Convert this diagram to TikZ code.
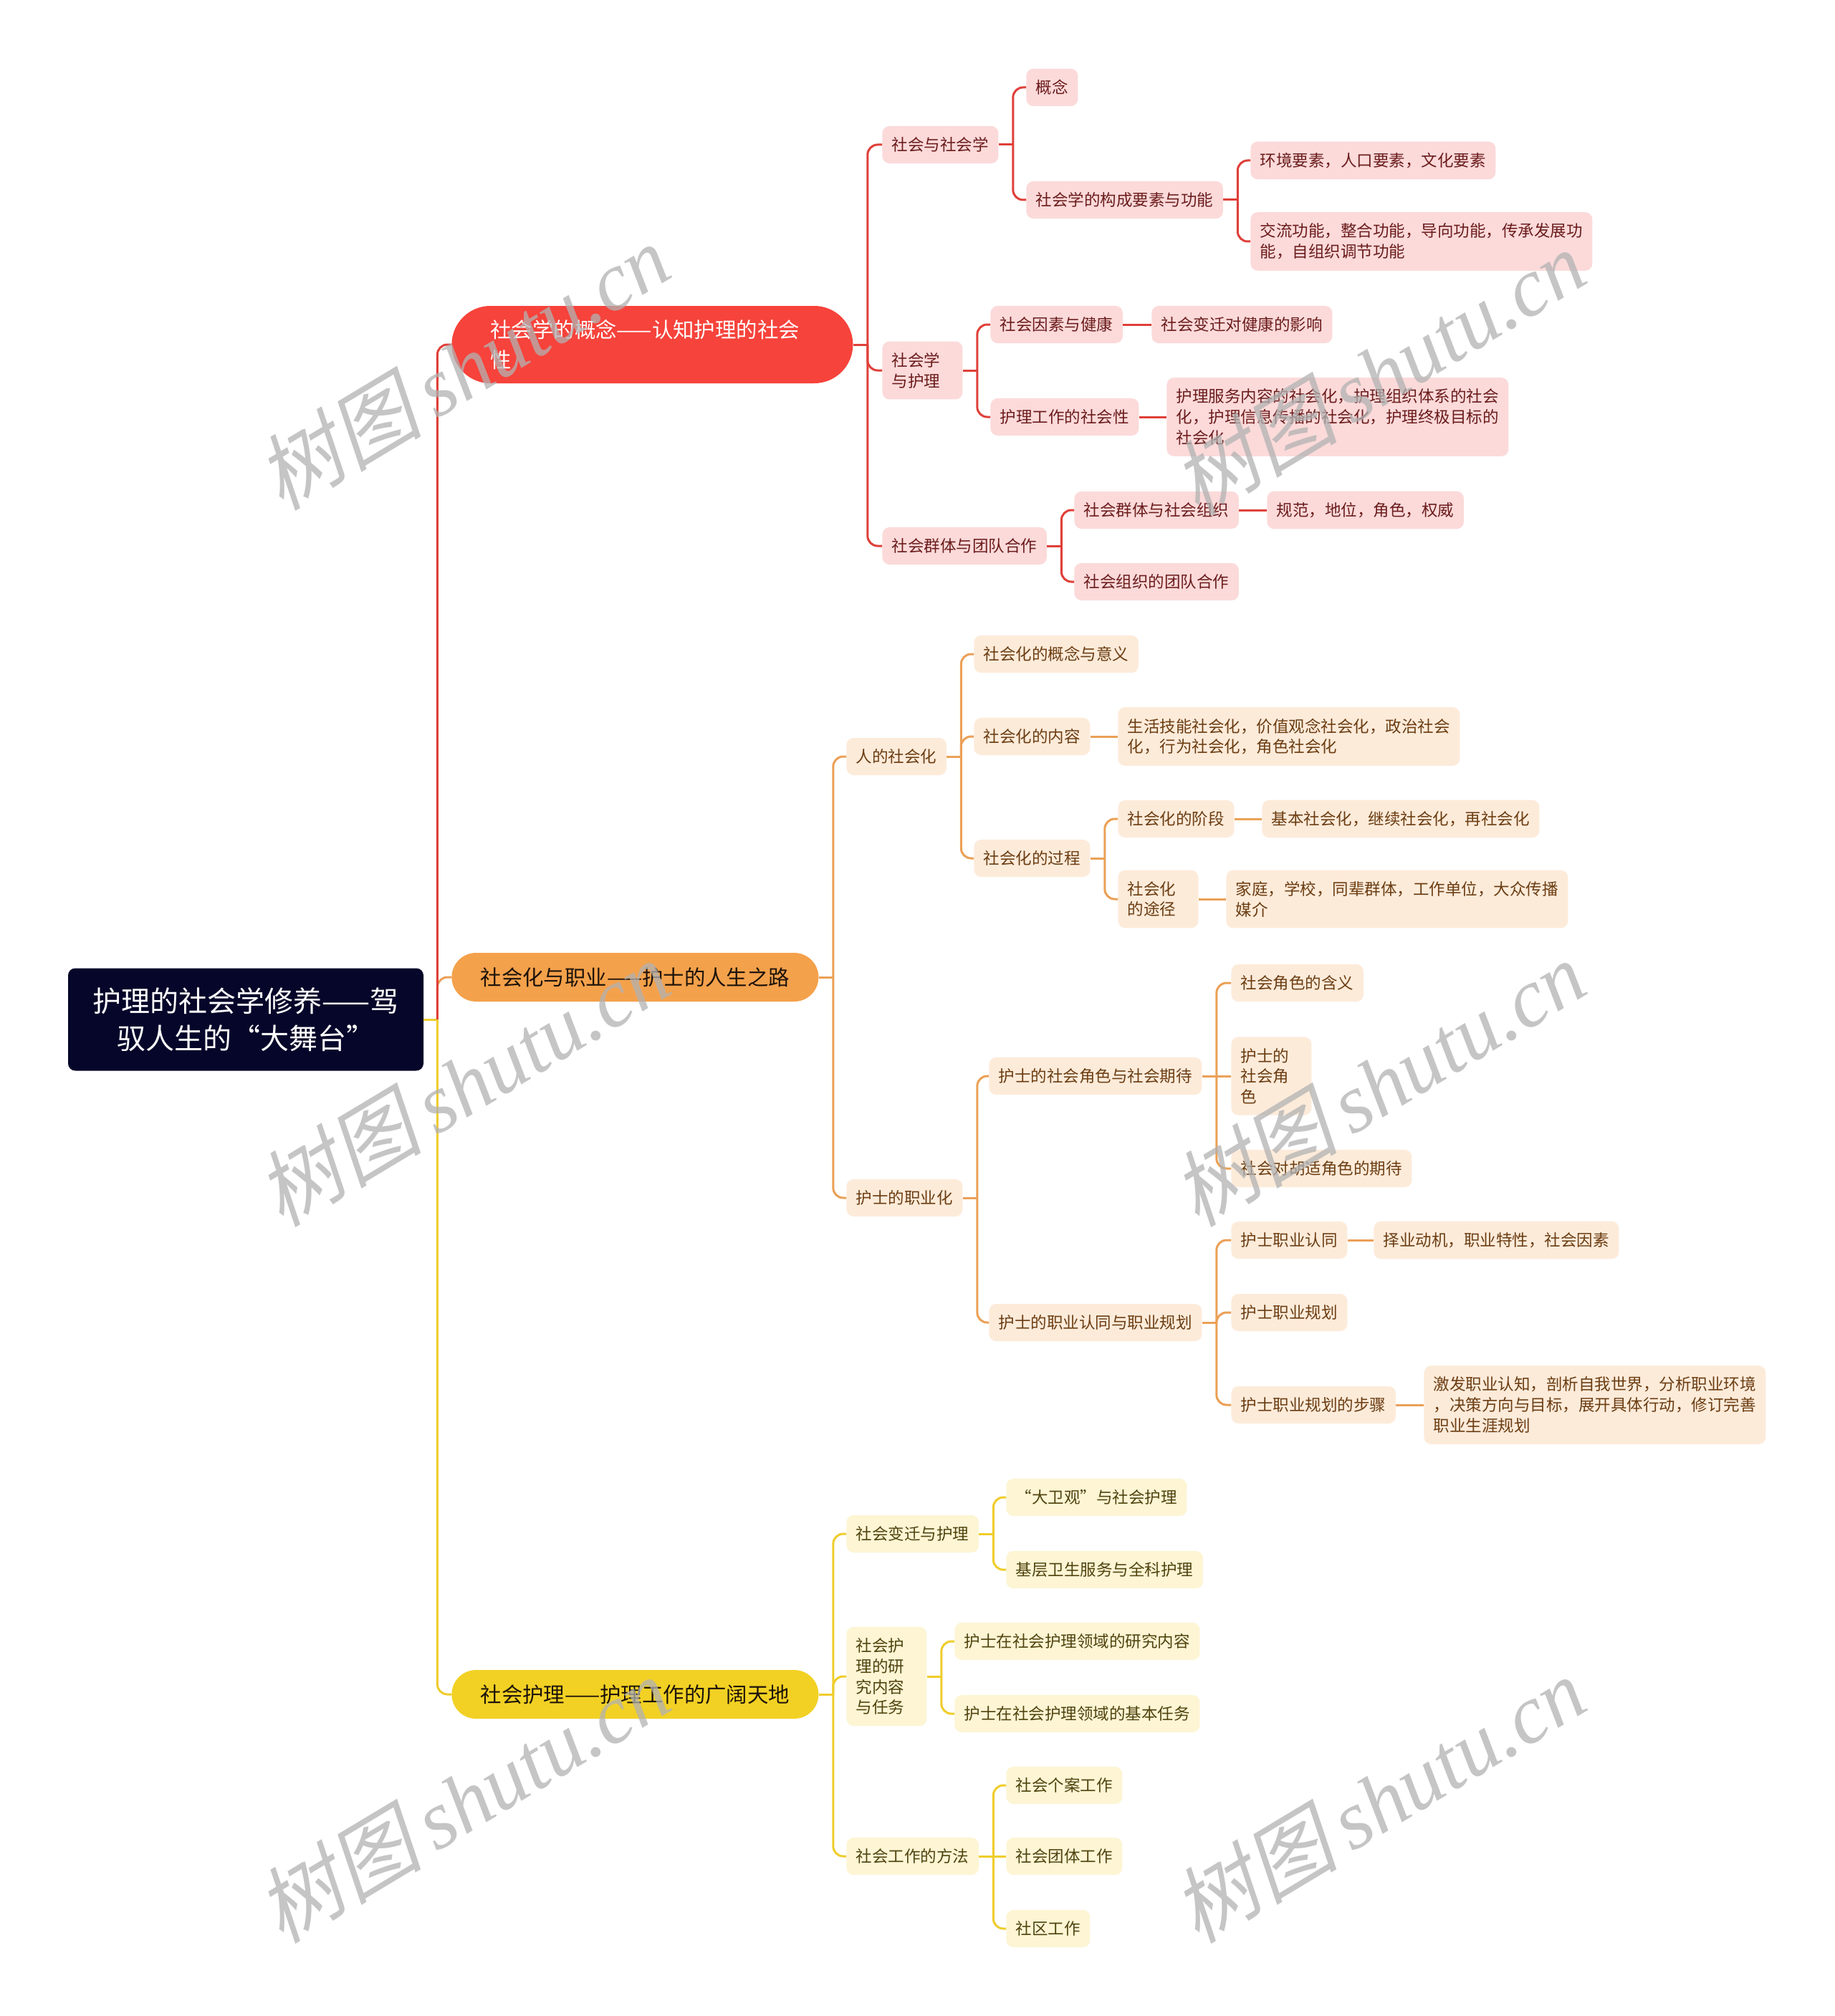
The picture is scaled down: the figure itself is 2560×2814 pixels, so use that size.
\documentclass[tikz,border=0pt]{standalone}
\usepackage{fontspec}
\setmainfont{Noto Sans CJK SC}
\newfontfamily\wmcjk[FakeSlant=0.22]{Noto Sans CJK SC}
\newfontfamily\wmlat{Liberation Serif}
\definecolor{pred}{HTML}{F6433B}
\definecolor{rline}{HTML}{DF4039}
\definecolor{rfill}{HTML}{FCDADA}
\definecolor{rtext}{HTML}{6B1C1C}
\definecolor{porange}{HTML}{F4A14B}
\definecolor{oline}{HTML}{EBA056}
\definecolor{ofill}{HTML}{FDEBDA}
\definecolor{otext}{HTML}{6B3D12}
\definecolor{pyellow}{HTML}{F2D124}
\definecolor{yline}{HTML}{EFCD2C}
\definecolor{yfill}{HTML}{FDF5D4}
\definecolor{ytext}{HTML}{4F430E}
\definecolor{rootfill}{HTML}{06062A}
\newcommand\mybranch[3]{%
  \draw[#1] (#2.east) -- ++(20,0) coordinate (#2j);
  \foreach \c in {#3} {\draw[#1] (#2j) |- (\c.west);}%
}
\begin{document}
\begin{tikzpicture}[x=0.5pt,y=-0.5pt,
  box/.style={rounded corners=5pt, inner xsep=6.75pt, inner ysep=7.8pt,
    minimum height=26pt, align=left, anchor=west,
    font=\fontsize{11.25}{14.4}\selectfont},
  rbox/.style={box, fill=rfill, text=rtext},
  obox/.style={box, fill=ofill, text=otext},
  ybox/.style={box, fill=yfill, text=ytext},
  narrow/.style={text width=42.5pt},
  pill/.style={anchor=west, font=\fontsize{14.7}{20.6}\selectfont, inner sep=0pt},
  rl/.style={draw=rline, line width=1.5pt, rounded corners=7pt},
  ol/.style={draw=oline, line width=1.5pt, rounded corners=7pt},
  yl/.style={draw=yline, line width=1.5pt, rounded corners=7pt},
  wm/.style={text=black!30, opacity=0.75, rotate=31, inner sep=0pt}
]
\fill[white] (0,0) rectangle (2560,2814);
\useasboundingbox (0,0) rectangle (2560,2814);

% root
\node[fill=rootfill, text=white, rounded corners=5pt, minimum width=248pt,
  minimum height=71.5pt, align=center, inner sep=0pt,
  font=\fontsize{20}{26}\selectfont] (root) at (343,1423)
  {护理的社会学修养——驾\\驭人生的“大舞台”};

% level 1
\node[pill, fill=pred, text=white, minimum width=280pt, minimum height=54pt,
  rounded corners=27pt, text width=226pt, inner xsep=27pt, align=left] (A) at (630,481)
  {社会学的概念——认知护理的社会\\性};
\node[pill, fill=porange, text=black!85!brown, minimum width=256pt, minimum height=34pt,
  rounded corners=17pt] (B) at (630,1364) {社会化与职业——护士的人生之路};
\node[pill, fill=pyellow, text=black!85!brown, minimum width=256pt, minimum height=34pt,
  rounded corners=17pt] (C) at (630,2365) {社会护理——护理工作的广阔天地};

% red branch
\node[rbox] (A1) at (1231,202) {社会与社会学};
\node[rbox] (A11) at (1432,122) {概念};
\node[rbox] (A12) at (1432,279) {社会学的构成要素与功能};
\node[rbox] (A121) at (1745,224) {环境要素，人口要素，文化要素};
\node[rbox] (A122) at (1745,337) {交流功能，整合功能，导向功能，传承发展功\\能，自组织调节功能};
\node[rbox,narrow] (A2) at (1231,517) {社会学\\与护理};
\node[rbox] (A21) at (1382,453) {社会因素与健康};
\node[rbox] (A211) at (1607,453) {社会变迁对健康的影响};
\node[rbox] (A22) at (1382,582) {护理工作的社会性};
\node[rbox] (A221) at (1628,582) {护理服务内容的社会化，护理组织体系的社会\\化，护理信息传播的社会化，护理终极目标的\\社会化};
\node[rbox] (A3) at (1231,762) {社会群体与团队合作};
\node[rbox] (A31) at (1499,712) {社会群体与社会组织};
\node[rbox] (A311) at (1768,712) {规范，地位，角色，权威};
\node[rbox] (A32) at (1499,812) {社会组织的团队合作};

% orange branch
\node[obox] (B1) at (1181,1056) {人的社会化};
\node[obox] (B11) at (1359,913) {社会化的概念与意义};
\node[obox] (B12) at (1359,1028) {社会化的内容};
\node[obox] (B121) at (1560,1028) {生活技能社会化，价值观念社会化，政治社会\\化，行为社会化，角色社会化};
\node[obox] (B13) at (1359,1198) {社会化的过程};
\node[obox] (B131) at (1560,1143) {社会化的阶段};
\node[obox] (B1311) at (1761,1143) {基本社会化，继续社会化，再社会化};
\node[obox,narrow] (B132) at (1560,1255) {社会化\\的途径};
\node[obox] (B1321) at (1711,1255) {家庭，学校，同辈群体，工作单位，大众传播\\媒介};
\node[obox] (B2) at (1181,1672) {护士的职业化};
\node[obox] (B21) at (1380,1502) {护士的社会角色与社会期待};
\node[obox] (B211) at (1718,1372) {社会角色的含义};
\node[obox,narrow] (B212) at (1718,1502) {护士的\\社会角\\色};
\node[obox] (B213) at (1718,1631) {社会对胡适角色的期待};
\node[obox] (B22) at (1380,1846) {护士的职业认同与职业规划};
\node[obox] (B221) at (1718,1731) {护士职业认同};
\node[obox] (B2211) at (1917,1731) {择业动机，职业特性，社会因素};
\node[obox] (B222) at (1718,1832) {护士职业规划};
\node[obox] (B223) at (1718,1961) {护士职业规划的步骤};
\node[obox] (B2231) at (1987,1961) {激发职业认知，剖析自我世界，分析职业环境\\，决策方向与目标，展开具体行动，修订完善\\职业生涯规划};

% yellow branch
\node[ybox] (C1) at (1181,2141) {社会变迁与护理};
\node[ybox] (C11) at (1404,2090) {“大卫观”与社会护理};
\node[ybox] (C12) at (1404,2191) {基层卫生服务与全科护理};
\node[ybox,narrow] (C2) at (1181,2340) {社会护\\理的研\\究内容\\与任务};
\node[ybox] (C21) at (1332,2291) {护士在社会护理领域的研究内容};
\node[ybox] (C22) at (1332,2392) {护士在社会护理领域的基本任务};
\node[ybox] (C3) at (1181,2591) {社会工作的方法};
\node[ybox] (C31) at (1404,2492) {社会个案工作};
\node[ybox] (C32) at (1404,2591) {社会团体工作};
\node[ybox] (C33) at (1404,2692) {社区工作};

% trunk
\draw[yl] (root.east) -- ++(19,0) coordinate (rootj);
\draw[ol] (rootj) |- (B.west);
\draw[rl] (rootj) |- (A.west);
\draw[yl] (rootj) |- (C.west);

% red connectors
\mybranch{rl}{A}{A1,A2,A3}
\mybranch{rl}{A1}{A11,A12}
\mybranch{rl}{A12}{A121,A122}
\mybranch{rl}{A2}{A21,A22}
\mybranch{rl}{A3}{A31,A32}
\draw[rl] (A21.east) -- (A211.west);
\draw[rl] (A22.east) -- (A221.west);
\draw[rl] (A31.east) -- (A311.west);

% orange connectors
\mybranch{ol}{B}{B1,B2}
\mybranch{ol}{B1}{B11,B12,B13}
\mybranch{ol}{B13}{B131,B132}
\mybranch{ol}{B2}{B21,B22}
\mybranch{ol}{B21}{B211,B213}
\draw[ol] (B21j) -- (B212.west);
\mybranch{ol}{B22}{B221,B222,B223}
\draw[ol] (B12.east) -- (B121.west);
\draw[ol] (B131.east) -- (B1311.west);
\draw[ol] (B132.east) -- (B1321.west);
\draw[ol] (B221.east) -- (B2211.west);
\draw[ol] (B223.east) -- (B2231.west);

% yellow connectors
\mybranch{yl}{C}{C1,C2,C3}
\mybranch{yl}{C1}{C11,C12}
\mybranch{yl}{C2}{C21,C22}
\mybranch{yl}{C3}{C31,C33}
\draw[yl] (C3j) -- (C32.west);

% watermarks
\foreach \wx/\wy [count=\k] in {646/512,1924/520,646/1512,1924/1512,646/2512,1924/2512}{
  \node[wm] (wm\k) at (\wx,\wy) {\fontsize{58}{60}\selectfont\wmcjk 树图\,\wmlat\itshape shutu.cn};
}
\end{tikzpicture}
\end{document}
